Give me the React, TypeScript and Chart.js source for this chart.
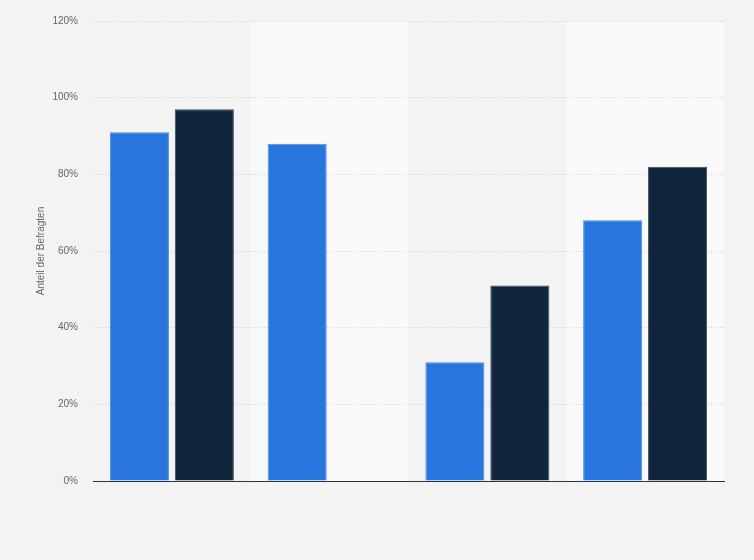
import React, { useEffect, useRef } from "react";
import { Chart, registerables } from "chart.js";

Chart.register(...registerables);

const categories = ["A", "B", "C", "D"];
const seriesA = [91, 88, 31, 68];
const seriesB = [97, null, 51, 82];
const yTicks = [0, 20, 40, 60, 80, 100, 120];

const bandPlugin = {
  id: "bands",
  beforeDraw(chart: any) {
    const { ctx, chartArea, scales } = chart;
    const x = scales.x;
    ctx.save();
    ctx.fillStyle = "#f9f9f9";
    categories.forEach((_, i) => {
      if (i % 2 === 1) {
        const c = x.getPixelForValue(i);
        const half = (chartArea.right - chartArea.left) / categories.length / 2;
        ctx.fillRect(c - half, chartArea.top, half * 2, chartArea.bottom - chartArea.top);
      }
    });
    ctx.restore();
  },
};

export default function App() {
  const ref = useRef<HTMLCanvasElement>(null);
  useEffect(() => {
    document.body.style.margin = "0";
    const chart = new Chart(ref.current!, {
      type: "bar",
      data: {
        labels: categories,
        datasets: [
          {
            data: seriesA,
            backgroundColor: "#2876dd",
            borderColor: "#4a8de4",
            borderWidth: { top: 1, left: 1, right: 1, bottom: 0 },
            barPercentage: 0.91,
            categoryPercentage: 0.823,
          },
          {
            data: seriesB as any,
            backgroundColor: "#10263d",
            borderColor: "#3a4b5e",
            borderWidth: { top: 1, left: 1, right: 1, bottom: 0 },
            barPercentage: 0.91,
            categoryPercentage: 0.823,
          },
        ],
      },
      options: {
        animation: false,
        responsive: false,
        maintainAspectRatio: false,
        layout: { padding: { top: 20, right: 30, bottom: 71, left: 0 } },
        plugins: { legend: { display: false }, tooltip: { enabled: false } },
        scales: {
          x: {
            ticks: { display: false },
            grid: { display: false },
            border: { display: true, color: "#333333", width: 1 },
          },
          y: {
            min: 0,
            max: 120,
            afterBuildTicks(scale: any) {
              scale.ticks = yTicks.map((v) => ({ value: v }));
            },
            afterFit(scale: any) {
              scale.width = 93;
            },
            ticks: {
              padding: 15,
              color: "#666666",
              font: { family: "Liberation Sans, Arial, sans-serif", size: 10 },
              callback: (v: any) => v + "%",
            },
            grid: {
              color: "#cfcfcf",
              drawTicks: false,
              lineWidth: 1,
            },
            border: { display: false, dash: [1, 2] },
            title: {
              display: true,
              text: "Anteil der Befragten",
              color: "#666666",
              font: { family: "Liberation Sans, Arial, sans-serif", size: 10 },
              padding: { top: 35, bottom: 0 },
            },
          },
        },
      },
      plugins: [bandPlugin],
    });
    return () => chart.destroy();
  }, []);
  return (
    <div style={{ width: 754, height: 560, background: "#f3f3f3" }}>
      <canvas ref={ref} width={754} height={560} style={{ display: "block" }} />
    </div>
  );
}
